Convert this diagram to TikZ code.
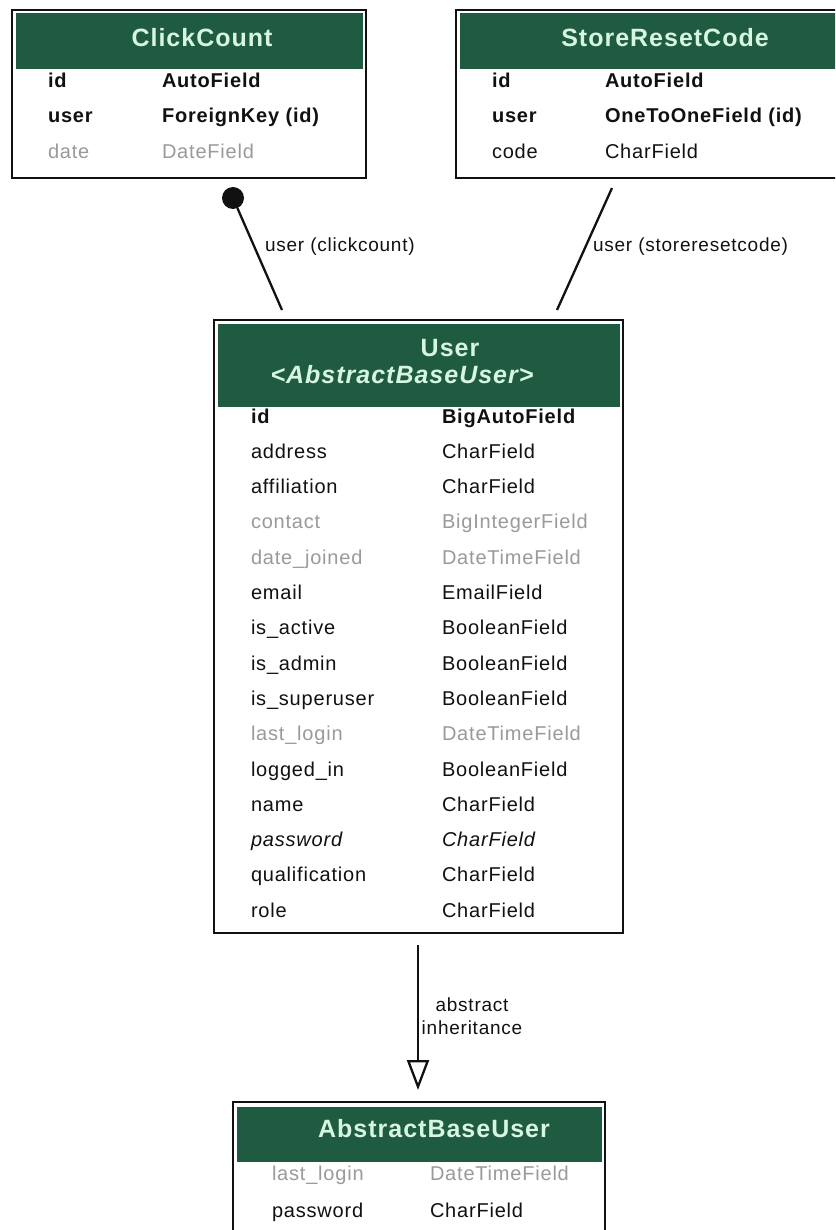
\documentclass[tikz,border=0pt]{standalone}
\usepackage{fontspec}
\setmainfont{Liberation Sans}[LetterSpace=4]
\usetikzlibrary{arrows.meta}
\definecolor{hdrgreen}{HTML}{1E5B40}
\definecolor{hdrtext}{HTML}{D6F5E2}
\definecolor{faint}{HTML}{9A9A9A}
\definecolor{ink}{HTML}{111111}

\begin{document}
\begin{tikzpicture}[x=1pt,y=-1pt,
  every node/.style={inner sep=0pt, outer sep=0pt},
  tablebox/.style={draw=ink, line width=2.5pt, fill=white, anchor=north west},
  headband/.style={fill=hdrgreen},
  title/.style={text=hdrtext, font=\fontsize{25}{28}\selectfont\bfseries},
  cell/.style={anchor=west, text=ink, text height=14pt, text depth=4pt,
               font=\fontsize{20}{24}\selectfont},
  keycell/.style={cell, font=\fontsize{20}{24}\selectfont\bfseries},
  faintcell/.style={cell, text=faint},
  slantcell/.style={cell, font=\fontsize{20}{24}\selectfont\itshape},
  link/.style={draw=ink, line width=2.3pt},
  edgelabel/.style={text=ink, font=\fontsize{19}{23}\selectfont}
]
\useasboundingbox (0,0) rectangle (835,1230);
\clip (0,0) rectangle (835,1230);

% ---------- ClickCount ----------
\node[tablebox, minimum width=354pt, minimum height=168pt] (clickcount) at (12,10) {};
\fill[headband] ([shift={(3.5,3.5)}]clickcount.north west) rectangle ([shift={(-3.5,59)}]clickcount.north east);
\node[title] (cctitle) at (202,38) {ClickCount};
\node[keycell] (ccidn) at (48,83) {id};
\node[keycell] (ccidt) at (162,83) {AutoField};
\node[keycell] (ccusern) at (48,118) {user};
\node[keycell] (ccusert) at (162,118) {ForeignKey (id)};
\node[faintcell] (ccdaten) at (48,154) {date};
\node[faintcell] (ccdatet) at (162,154) {DateField};

% ---------- StoreResetCode ----------
\node[tablebox, minimum width=418pt, minimum height=168pt] (storeresetcode) at (456,10) {};
\fill[headband] ([shift={(3.5,3.5)}]storeresetcode.north west) rectangle ([shift={(-3.5,59)}]storeresetcode.north east);
\node[title] (srtitle) at (665,38) {StoreResetCode};
\node[keycell] (sridn) at (492,83) {id};
\node[keycell] (sridt) at (605,83) {AutoField};
\node[keycell] (srusern) at (492,118) {user};
\node[keycell] (srusert) at (605,118) {OneToOneField (id)};
\node[cell] (srcoden) at (492,154) {code};
\node[cell] (srcodet) at (605,154) {CharField};

% ---------- User ----------
\node[tablebox, minimum width=409pt, minimum height=613pt] (user) at (214,320) {};
\fill[headband] ([shift={(3.5,4)}]user.north west) rectangle ([shift={(-3.5,87)}]user.north east);
\node[title] (usertitle) at (450,348) {User};
\node[title, font=\fontsize{25}{28}\selectfont\bfseries\itshape] (usersub) at (402,375) {<AbstractBaseUser>};
\node[keycell] (u0n) at (251,418.0) {id};
\node[keycell] (u0t) at (442,418.0) {BigAutoField};
\node[cell] (u1n) at (251,453.3) {address};
\node[cell] (u1t) at (442,453.3) {CharField};
\node[cell] (u2n) at (251,488.6) {affiliation};
\node[cell] (u2t) at (442,488.6) {CharField};
\node[faintcell] (u3n) at (251,523.9) {contact};
\node[faintcell] (u3t) at (442,523.9) {BigIntegerField};
\node[faintcell] (u4n) at (251,559.2) {date\_joined};
\node[faintcell] (u4t) at (442,559.2) {DateTimeField};
\node[cell] (u5n) at (251,594.5) {email};
\node[cell] (u5t) at (442,594.5) {EmailField};
\node[cell] (u6n) at (251,629.8) {is\_active};
\node[cell] (u6t) at (442,629.8) {BooleanField};
\node[cell] (u7n) at (251,665.1) {is\_admin};
\node[cell] (u7t) at (442,665.1) {BooleanField};
\node[cell] (u8n) at (251,700.4) {is\_superuser};
\node[cell] (u8t) at (442,700.4) {BooleanField};
\node[faintcell] (u9n) at (251,735.7) {last\_login};
\node[faintcell] (u9t) at (442,735.7) {DateTimeField};
\node[cell] (u10n) at (251,771.0) {logged\_in};
\node[cell] (u10t) at (442,771.0) {BooleanField};
\node[cell] (u11n) at (251,806.3) {name};
\node[cell] (u11t) at (442,806.3) {CharField};
\node[slantcell] (u12n) at (251,841.6) {password};
\node[slantcell] (u12t) at (442,841.6) {CharField};
\node[cell] (u13n) at (251,876.9) {qualification};
\node[cell] (u13t) at (442,876.9) {CharField};
\node[cell] (u14n) at (251,912.2) {role};
\node[cell] (u14t) at (442,912.2) {CharField};

% ---------- AbstractBaseUser ----------
\node[tablebox, minimum width=372pt, minimum height=160pt] (abstractbaseuser) at (233,1102) {};
\fill[headband] ([shift={(3.5,5)}]abstractbaseuser.north west) rectangle ([shift={(-3.5,60)}]abstractbaseuser.north east);
\node[title] (abtitle) at (434,1129) {AbstractBaseUser};
\node[faintcell] (ab0n) at (272,1175) {last\_login};
\node[faintcell] (ab0t) at (430,1175) {DateTimeField};
\node[cell] (ab1n) at (272,1212) {password};
\node[cell] (ab1t) at (430,1212) {CharField};

% ---------- relations ----------
\node[circle, fill=ink, minimum size=22pt] (ccdot) at (233,198) {};
\coordinate (ccfoot) at (282,310);
\draw[link] (ccdot) -- (ccfoot);
\node[edgelabel, anchor=west] (cclabel) at (265,247) {user (clickcount)};

\coordinate (srtop) at (612,188);
\coordinate (srfoot) at (557,310);
\draw[link] (srtop) -- (srfoot);
\node[edgelabel, anchor=west] (srlabel) at (593,247) {user (storeresetcode)};

\coordinate (inhtop) at (418,945);
\coordinate (inhtip) at (418,1090);
\draw[link, -{Triangle[open, width=22pt, length=30pt]}] (inhtop) -- (inhtip);
\node[edgelabel, align=center] (inhlabel) at (472,1016) {abstract\\inheritance};
\end{tikzpicture}
\end{document}
